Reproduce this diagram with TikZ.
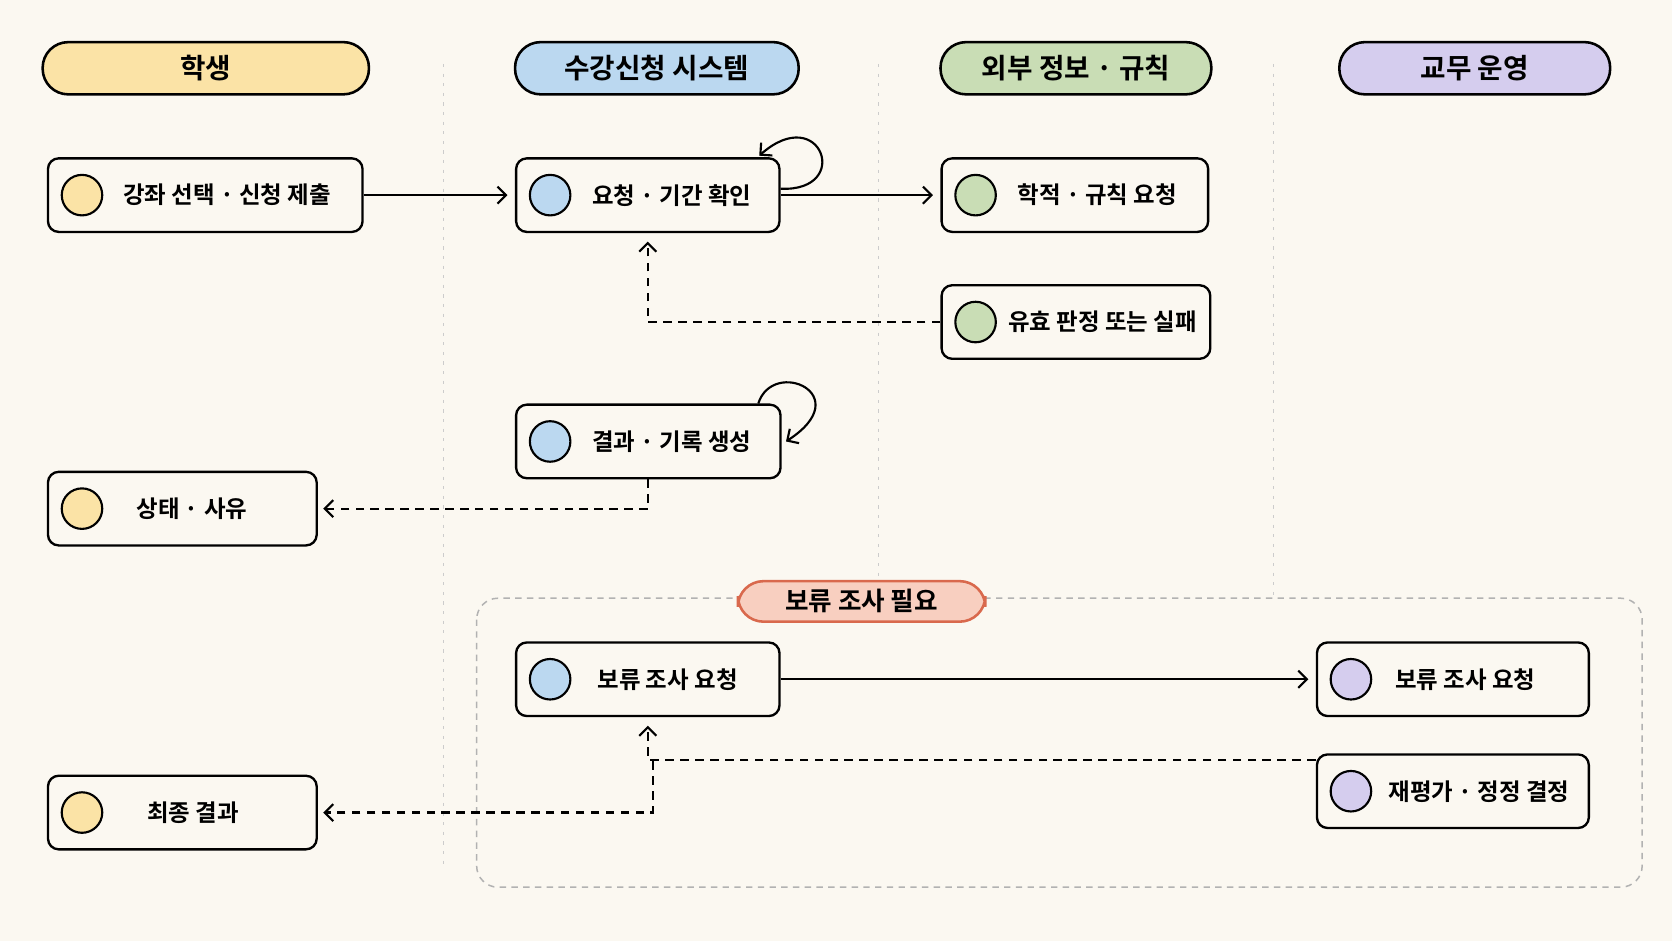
\documentclass[tikz,border=0pt]{standalone}
\usepackage{fontspec}
\setmainfont{Noto Sans CJK KR}[BoldFont={Noto Sans CJK KR Bold}]
\usetikzlibrary{arrows.meta}
\definecolor{bg}{HTML}{FBF8F1}
\definecolor{cy}{HTML}{FBE3A6}
\definecolor{cb}{HTML}{BBD8F0}
\definecolor{cg}{HTML}{C9DDB5}
\definecolor{cp}{HTML}{D5CDEE}
\definecolor{cs}{HTML}{F8CFC0}
\definecolor{cso}{HTML}{D9694D}
\begin{document}
\begin{tikzpicture}[x=0.5pt,y=-0.5pt,
 hdr/.style={draw=black,line width=1.2pt,rounded corners=12pt,minimum height=24.5pt,font=\fontsize{13}{15}\selectfont\bfseries},
 box/.style={draw=black,line width=1.1pt,rounded corners=5pt,fill=bg,minimum height=34.5pt},
 dot/.style={circle,draw=black,line width=1pt,minimum size=19pt,inner sep=0pt},
 lbl/.style={font=\fontsize{11}{13}\selectfont\bfseries},
 arr/.style={line width=1pt,-{Straight Barb[length=4pt,width=8pt]}},
 das/.style={arr,dash pattern=on 4pt off 3pt}]
\fill[bg] (0,0) rectangle (1568,882);
\useasboundingbox (0,0) rectangle (1568,882);
% lane dividers
\foreach \x in {416,824,1194}{\draw[gray!40,line width=0.6pt,dash pattern=on 1.5pt off 3pt] (\x,60) -- (\x,812);}
% group
\draw[gray!60,line width=0.7pt,dash pattern=on 3pt off 2.5pt,rounded corners=10pt,fill=bg] (447,561) rectangle (1540,832);
\node[hdr,fill=cs,draw=cso,minimum width=116pt,minimum height=19pt,font=\fontsize{12}{14}\selectfont\bfseries] (grp) at (808,564) {보류 조사 필요};
% headers
\node[hdr,fill=cy,minimum width=153pt] (h1) at (193,64) {학생};
\node[hdr,fill=cb,minimum width=133pt] (h2) at (616,64) {수강신청 시스템};
\node[hdr,fill=cg,minimum width=127pt] (h3) at (1009,64) {외부 정보 · 규칙};
\node[hdr,fill=cp,minimum width=127pt] (h4) at (1383,64) {교무 운영};
% boxes: name, center, width, color, text, text center
\newcommand\bx[6]{%
 \node[box,minimum width=#3*0.5pt] (#1) at (#2) {};
 \node[dot,fill=#4] (#1d) at ([xshift=16.5pt]#1.west) {};
 \node[lbl] (#1t) at (#6) {#5};}
\bx{A}{192.5,183}{295}{cy}{강좌 선택 · 신청 제출}{213,183}
\bx{B}{607.5,183}{247}{cb}{요청 · 기간 확인}{630,183}
\bx{C}{1008,183}{250}{cg}{학적 · 규칙 요청}{1029,183}
\bx{D}{1009,302}{252}{cg}{유효 판정 또는 실패}{1034,302}
\bx{E}{608,414}{248}{cb}{결과 · 기록 생성}{630,414}
\bx{F}{171,477}{252}{cy}{상태 · 사유}{180,477}
\bx{H}{607.5,637}{247}{cb}{보류 조사 요청}{626,637}
\bx{I}{1362.5,637}{255}{cp}{보류 조사 요청}{1374,637}
\bx{J}{1362.5,742}{255}{cp}{재평가 · 정정 결정}{1387,742}
\bx{K}{171,762}{252}{cy}{최종 결과}{181,762}
% edges
\draw[arr] (A.east) -- ([xshift=-3.5pt]B.west);
\draw[arr] (B.east) -- ([xshift=-3.5pt]C.west);
\draw[arr] ([yshift=3pt]B.east) .. controls (800,180) and (770,95) .. (712,146);
\draw[das] (D.west) -| ([yshift=-4pt]B.south);
\draw[arr] ([xshift=-1pt]E.north east) ++(-20,0) .. controls (725,335) and (805,370) .. ([xshift=2pt]E.east);
\draw[das] (E.south) |- ([xshift=2.5pt]F.east);
\draw[arr] (H.east) -- ([xshift=-3.5pt]I.west);
\draw[das] (J.north west) ++(0,6) -| ([yshift=-4pt]H.south);
\draw[das] (612,714) |- ([xshift=2.5pt]K.east);
\end{tikzpicture}
\end{document}
